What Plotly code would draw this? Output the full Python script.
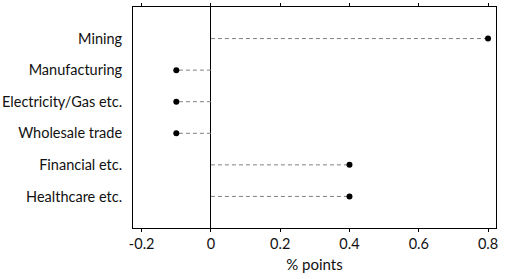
import plotly.graph_objects as go

categories = ["Mining", "Manufacturing", "Electricity/Gas etc.", "Wholesale trade", "Financial etc.", "Healthcare etc."]
values = [0.8, -0.1, -0.1, -0.1, 0.4, 0.4]
xticks = [-0.2, 0, 0.2, 0.4, 0.6, 0.8]
xticklabels = ["-0.2", "0", "0.2", "0.4", "0.6", "0.8"]

n = len(categories)
ypos = [n - i for i in range(n)]

fig = go.Figure()
for c, v, y in zip(categories, values, ypos):
    fig.add_trace(go.Scatter(x=[0, v], y=[y, y], mode="lines",
                             line=dict(color="#808080", width=1, dash="4px,3px"),
                             hoverinfo="skip", showlegend=False))
fig.add_trace(go.Scatter(x=values, y=ypos, mode="markers",
                         marker=dict(color="black", size=6, symbol="circle"),
                         showlegend=False))

font = dict(family="Lato, Open Sans, sans-serif", size=14.5, color="#111111")
fig.update_layout(
    width=505, height=279,
    margin=dict(l=133, r=9, t=7, b=51),
    plot_bgcolor="white", paper_bgcolor="white",
    font=font,
    xaxis=dict(range=[-0.225, 0.823], tickvals=xticks, ticktext=xticklabels,
               showgrid=False, zeroline=True, zerolinecolor="black", zerolinewidth=1,
               showline=True, linecolor="black", linewidth=1, mirror="ticks",
               ticks="outside", ticklen=3, tickcolor="black", automargin=False,
               title=dict(text="% points", standoff=8,
                          font=dict(family="Lato, Open Sans, sans-serif", size=15, color="#111111")),
               tickfont=font),
    yaxis=dict(range=[0, n + 1], tickvals=ypos, ticktext=categories,
               showgrid=False, zeroline=False, automargin=False,
               showline=True, linecolor="black", linewidth=1, mirror=True,
               ticks="", ticklabelstandoff=7, tickfont=font),
)
fig.write_html("out.html")
